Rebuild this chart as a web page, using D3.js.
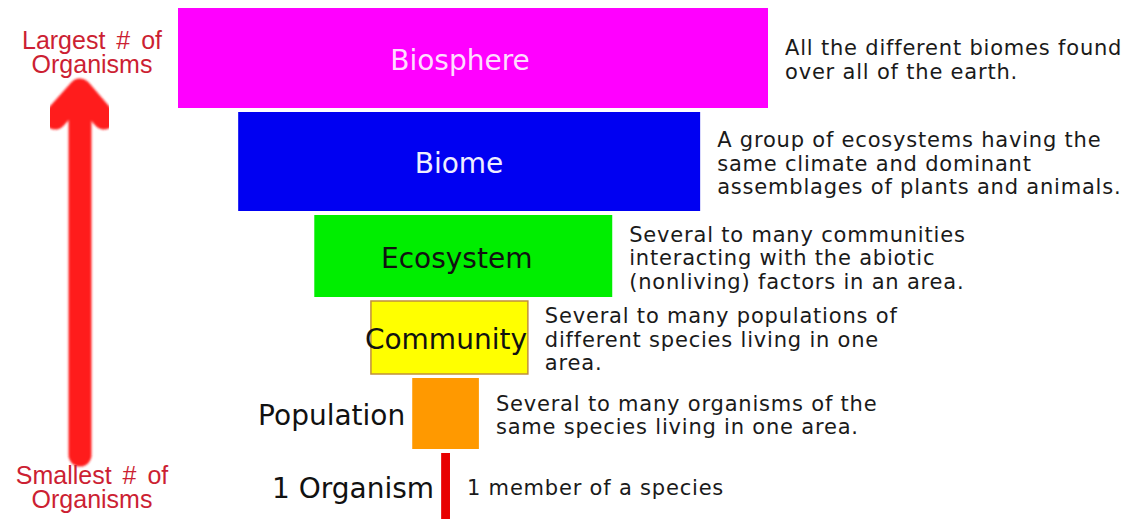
<html>
<head>
<style>
body { margin: 0; background: #fff; }
.desc { font-family: "DejaVu Sans"; font-size: 21px; fill: #1a1a1a; letter-spacing: 0.8px; }
.lvl { font-family: "DejaVu Sans"; font-size: 28px; }
.side { font-family: "Liberation Sans"; font-size: 25px; fill: #cc1f33; word-spacing: 4px; }
</style>
</head>
<body>
<div id="vis"></div>
<script src="https://cdn.jsdelivr.net/npm/d3@7"></script>
<script>
// levels of organisation, biggest first
var levels = ["Biosphere", "Biome", "Ecosystem", "Community", "Population", "1 Organism"];
// relative extent of each level (0..100 = width of biosphere)
var spanLo = [0, 10.2, 23.1, 32.7, 39.7, 44.6];
var spanHi = [100, 88.5, 73.6, 59.3, 51.0, 46.1];
// relative thickness of each row
var rowSize = [104, 103, 86, 77, 75, 70];
var descriptions = [
	["All the different biomes found", "over all of the earth."],
	["A group of ecosystems having the", "same climate and dominant", "assemblages of plants and animals."],
	["Several to many communities", "interacting with the abiotic", "(nonliving) factors in an area."],
	["Several to many populations of", "different species living in one", "area."],
	["Several to many organisms of the", "same species living in one area."],
	["1 member of a species"]
];
var topLabel = ["Largest # of", "Organisms"];
var bottomLabel = ["Smallest # of", "Organisms"];

var fills = ["#ff00ff", "#0000f2", "#00ee00", "#ffff00", "#ff9900", "#e80000"];
var labelFills = ["#ffdcff", "#eeeeff", "#111", "#111", "#111", "#111"];

var width = 1124, height = 520;

var svg = d3.select("#vis").append("svg")
		.attr("width", width)
		.attr("height", height);

var x = d3.scaleLinear().domain([0, 100]).range([178, 768]);
var starts = d3.cumsum([0].concat(rowSize));
var y = d3.scaleLinear().domain([0, d3.sum(rowSize)]).range([8, 523]);
var gap = 4;

var rows = levels.map(function(name, i) {
	return {
		name: name,
		x0: x(spanLo[i]), x1: x(spanHi[i]),
		y0: y(starts[i]), y1: y(starts[i + 1]) - gap,
		fill: fills[i], labelFill: labelFills[i],
		desc: descriptions[i]
	};
});

// blurred red arrow on the left
var defs = svg.append("defs");
defs.append("filter").attr("id", "soft")
	.append("feGaussianBlur").attr("stdDeviation", 1.3);

var arrow = svg.append("g")
		.attr("filter", "url(#soft)")
		.attr("fill", "none")
		.attr("stroke", "#ff1f1f")
		.attr("stroke-width", 23)
		.attr("stroke-linecap", "round")
		.attr("stroke-linejoin", "round");
var line = d3.line();
arrow.append("path").attr("d", line([[80, 455], [80, 96]]));
arrow.append("path").attr("d", line([[55, 118], [80, 90], [104, 118]]));

// side labels
function sideLabel(lines, base) {
	svg.append("text")
			.attr("class", "side")
			.attr("text-anchor", "middle")
		.selectAll("tspan")
			.data(lines)
		.enter().append("tspan")
			.attr("x", 92)
			.attr("y", function(d, i) { return base + i * 23.5; })
			.text(function(d) { return d; });
}
sideLabel(topLabel, 49);
sideLabel(bottomLabel, 484);

// boxes
svg.selectAll(".box")
		.data(rows)
	.enter().append("rect")
		.attr("class", "box")
		.attr("x", function(d) { return d.x0; })
		.attr("y", function(d) { return d.y0; })
		.attr("width", function(d) { return d.x1 - d.x0; })
		.attr("height", function(d) { return d.y1 - d.y0; })
		.attr("fill", function(d) { return d.fill; })
		.attr("stroke", function(d) { return d.name == "Community" ? "#c0903a" : "none"; })
		.attr("stroke-width", 1.5);

// level names: inside wide boxes, to the left of narrow ones
function wide(d) { return (d.x1 - d.x0) > 100; }
svg.selectAll(".lvl")
		.data(rows)
	.enter().append("text")
		.attr("class", "lvl")
		.attr("x", function(d) {
			return wide(d) ? (d.x0 + d.x1) / 2 - (d.x1 - d.x0) * 0.022 : d.x0 - 7;
		})
		.attr("y", function(d) { return (d.y0 + d.y1) / 2 + 2; })
		.attr("dy", "0.35em")
		.attr("text-anchor", function(d) { return wide(d) ? "middle" : "end"; })
		.attr("fill", function(d) { return d.labelFill; })
		.text(function(d) { return d.name; });

// descriptions
var lh = 23.5;
svg.selectAll(".desc")
		.data(rows)
	.enter().append("text")
		.attr("class", "desc")
	.each(function(d) {
		var n = d.desc.length;
		d3.select(this).selectAll("tspan")
				.data(d.desc)
			.enter().append("tspan")
				.attr("x", d.x1 + 17)
				.attr("y", function(t, i) { return (d.y0 + d.y1) / 2 + 1.5 + (i - (n - 1) / 2) * lh; })
				.attr("dy", "0.36em")
				.text(function(t) { return t; });
	});
</script>
</body>
</html>
